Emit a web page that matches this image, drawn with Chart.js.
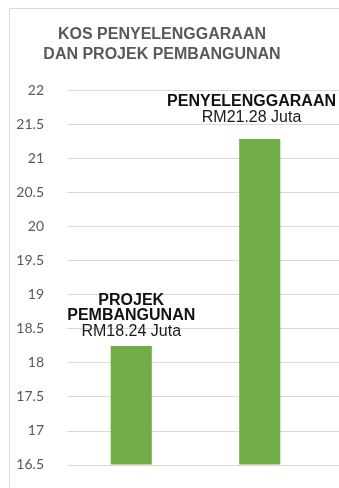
<!DOCTYPE html>
<html>
<head>
<meta charset="utf-8">
<script src="https://cdn.jsdelivr.net/npm/chart.js@4/dist/chart.umd.min.js"></script>
<style>
  html, body { margin: 0; padding: 0; background: #fff; overflow: hidden; }
  #frame {
    position: absolute; left: 9px; top: 8px; width: 400px; height: 560px;
    border-top: 1px solid #d9d9d9; border-left: 1px solid #d9d9d9;
  }
  #wrap { position: absolute; left: 0; top: 0; width: 339px; height: 488px; }
</style>
</head>
<body>
<div id="frame"></div>
<div id="wrap"><canvas id="kosChart"></canvas></div>
<script>
// kos (RM juta)
var kategori = [['PROJEK', 'PEMBANGUNAN'], ['PENYELENGGARAAN']];
var nilai = [18.24, 21.28];
var tickMin = 16.5, tickMax = 22, tickStep = 0.5;

// gridlines run past the plot area up to the right edge of the canvas
var gridPenuh = {
  id: 'gridPenuh',
  beforeDatasetsDraw(chart) {
    var y = chart.scales.y, ctx = chart.ctx;
    ctx.save();
    ctx.strokeStyle = '#d9d9d9';
    ctx.lineWidth = 1;
    y.ticks.forEach(function (t) {
      var py = Math.round(y.getPixelForValue(t.value)) + 0.5;
      ctx.beginPath();
      ctx.moveTo(chart.chartArea.left, py);
      ctx.lineTo(chart.width, py);
      ctx.stroke();
    });
    ctx.restore();
  }
};

// category name (bold) + value line above each bar
var labelBar = {
  id: 'labelBar',
  afterDatasetsDraw(chart, args, opts) {
    var ctx = chart.ctx;
    var meta = chart.getDatasetMeta(0);
    meta.data.forEach(function (bar, i) {
      var baris = kategori[i];
      var teks = 'RM' + nilai[i].toFixed(2) + ' Juta';
      ctx.save();
      ctx.font = 'bold 16px "Liberation Sans", Arial, sans-serif';
      var w = 0;
      baris.forEach(function (b) { w = Math.max(w, ctx.measureText(b).width); });
      ctx.font = '16px "Liberation Sans", Arial, sans-serif';
      w = Math.max(w, ctx.measureText(teks).width);
      var cx = bar.x;
      if (cx + w / 2 > chart.width - 3) cx = chart.width - 3 - w / 2;
      var base = bar.y - opts.gap[i];
      ctx.textAlign = 'center';
      ctx.textBaseline = 'alphabetic';
      ctx.fillStyle = '#1a1a1a';
      ctx.fillText(teks, cx, base);
      ctx.font = 'bold 16px "Liberation Sans", Arial, sans-serif';
      ctx.fillStyle = '#111';
      for (var k = baris.length - 1, n = 1; k >= 0; k--, n++) {
        ctx.fillText(baris[k], cx, base - 16 - (n - 1) * 15);
      }
      ctx.restore();
    });
  }
};

new Chart(document.getElementById('kosChart'), {
  type: 'bar',
  data: {
    labels: kategori,
    datasets: [{
      data: nilai,
      backgroundColor: '#70ad47',
      borderWidth: 0,
      categoryPercentage: 1,
      barPercentage: 0.32
    }]
  },
  options: {
    responsive: true,
    maintainAspectRatio: false,
    animation: false,
    layout: { padding: { left: 0, right: 15, top: 0, bottom: 14 } },
    plugins: {
      legend: { display: false },
      tooltip: { enabled: false },
      title: {
        display: true,
        text: ['KOS PENYELENGGARAAN', 'DAN PROJEK PEMBANGUNAN'],
        color: '#595959',
        font: { family: '"Liberation Sans", Arial, sans-serif', size: 16, weight: 'bold', lineHeight: 1.25 },
        padding: { top: 25, bottom: 25 }
      },
      labelBar: { gap: [10, 17] }
    },
    scales: {
      x: {
        offset: true,
        grid: { display: false },
        border: { display: false },
        ticks: { display: false }
      },
      y: {
        min: tickMin,
        max: tickMax,
        grid: { display: false },
        border: { display: false },
        ticks: {
          stepSize: tickStep,
          padding: 15,
          color: '#595959',
          font: { family: 'Lato, sans-serif', size: 14 },
          callback: function (v) { return String(parseFloat(Number(v).toFixed(1))); }
        },
        afterFit: function (s) { s.width = 67; }
      }
    }
  },
  plugins: [gridPenuh, labelBar]
});
</script>
</body>
</html>
